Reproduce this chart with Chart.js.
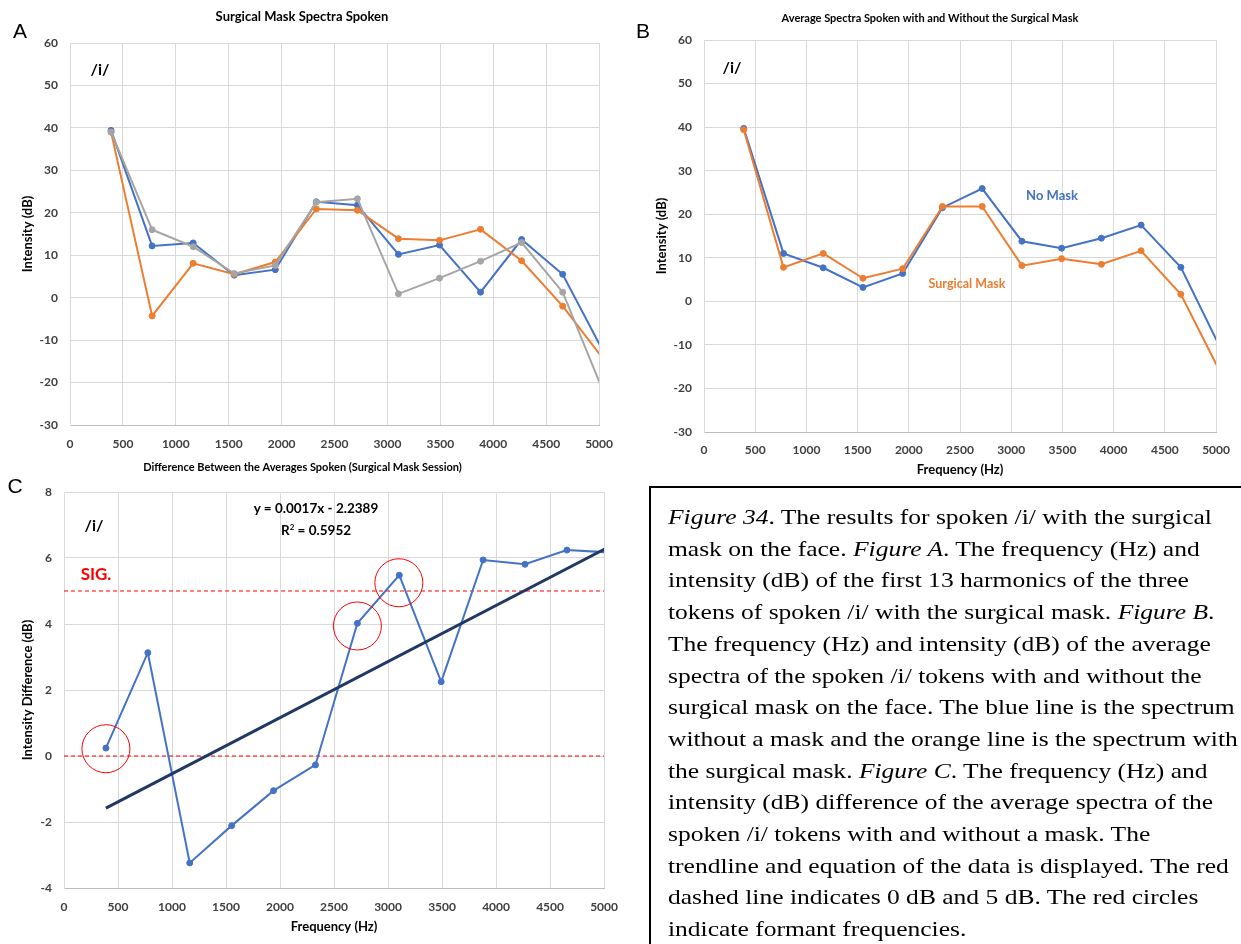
<!DOCTYPE html>
<html>
<head>
<meta charset="utf-8">
<script src="https://cdn.jsdelivr.net/npm/chart.js@4.4.1/dist/chart.umd.min.js"></script>
<style>
  html, body { margin: 0; padding: 0; background: #fff; }
  body { width: 1241px; height: 944px; overflow: hidden; position: relative; font-family: Lato, "Open Sans", sans-serif; }
  .cv { position: absolute; }
  .tag { position: absolute; white-space: nowrap; transform: translate(-50%, -50%); line-height: 1; }
  .panel { font-family: "Liberation Sans", Arial, sans-serif; font-size: 21px; color: #000; }
  .vowel { font-weight: bold; font-size: 16px; color: #000; }
  .caption {
    position: absolute; left: 649px; top: 486px; width: 700px; height: 600px;
    border: 2px solid #000; box-sizing: border-box;
    padding: 13px 0 0 17px;
    font-family: "Liberation Serif", "Times New Roman", serif; font-size: 22px; line-height: 31.7px; color: #000;
  }
  .caption .body { transform: scaleX(1.16); transform-origin: 0 0; }
  .caption .body div { white-space: nowrap; }
</style>
</head>
<body>
<canvas id="chartA" class="cv" width="625" height="460" style="left:0;top:0"></canvas>
<canvas id="chartB" class="cv" width="601" height="490" style="left:640px;top:0"></canvas>
<canvas id="chartC" class="cv" width="630" height="492" style="left:0;top:452px"></canvas>

<div class="tag panel" style="left:20px;top:30px">A</div>
<div class="tag panel" style="left:643px;top:30px">B</div>
<div class="tag panel" style="left:15px;top:485px">C</div>

<div class="tag vowel" style="left:100px;top:69px">/i/</div>
<div class="tag vowel" style="left:732px;top:67px">/i/</div>
<div class="tag vowel" style="left:94px;top:525px">/i/</div>

<div class="tag" style="left:1052px;top:195px;font-weight:bold;font-size:13px;color:#4472C4">No Mask</div>
<div class="tag" style="left:967px;top:284px;font-weight:bold;font-size:12.5px;color:#ED7D31">Surgical Mask</div>

<div class="tag" style="left:316px;top:509px;font-weight:bold;font-size:13.5px;color:#000">y = 0.0017x - 2.2389</div>
<div class="tag" style="left:316px;top:530px;font-weight:bold;font-size:13.5px;color:#000">R<sup style="font-size:8px;vertical-align:5px">2</sup> = 0.5952</div>
<div class="tag" style="left:96px;top:573px;font-weight:bold;font-size:17px;color:#FF0000">SIG.</div>

<div class="caption"><div class="body">
  <div><i>Figure 34</i>. The results for spoken /i/ with the surgical</div>
  <div>mask on the face. <i>Figure A</i>. The frequency (Hz) and</div>
  <div>intensity (dB) of the first 13 harmonics of the three</div>
  <div>tokens of spoken /i/ with the surgical mask. <i>Figure B</i>.</div>
  <div>The frequency (Hz) and intensity (dB) of the average</div>
  <div>spectra of the spoken /i/ tokens with and without the</div>
  <div>surgical mask on the face. The blue line is the spectrum</div>
  <div>without a mask and the orange line is the spectrum with</div>
  <div>the surgical mask. <i>Figure C</i>. The frequency (Hz) and</div>
  <div>intensity (dB) difference of the average spectra of the</div>
  <div>spoken /i/ tokens with and without a mask. The</div>
  <div>trendline and equation of the data is displayed. The red</div>
  <div>dashed line indicates 0 dB and 5 dB. The red circles</div>
  <div>indicate formant frequencies.</div>
</div></div>

<script>
// Harmonic frequencies (Hz) of the spoken /i/ tokens
const HARMONIC_HZ = [388, 776, 1164, 1552, 1940, 2328, 2716, 3104, 3492, 3880, 4268, 4656, 5044];

// Panel A: three surgical-mask tokens, intensity (dB)
const TOKEN_1_DB = [39.4, 12.2, 12.9, 5.3, 6.6, 22.6, 21.8, 10.2, 12.4, 1.3, 13.7, 5.5, -12.9];
const TOKEN_2_DB = [39.0, -4.3, 8.1, 5.5, 8.4, 20.9, 20.6, 13.9, 13.5, 16.1, 8.7, -2.0, -14.6];
const TOKEN_3_DB = [39.0, 16.0, 12.0, 5.7, 7.6, 22.5, 23.3, 0.9, 4.6, 8.6, 13.0, 1.3, -22.4];

// Panel B: average spectra, intensity (dB)
const NO_MASK_DB = [39.7, 11.0, 7.7, 3.2, 6.4, 21.5, 25.9, 13.8, 12.2, 14.5, 17.5, 7.8, -10.8];
const SURGICAL_MASK_DB = [39.4, 7.8, 11.0, 5.3, 7.5, 21.8, 21.8, 8.2, 9.8, 8.5, 11.6, 1.6, -16.4];

// Panel C: difference between the averages (dB)
const DIFFERENCE_DB = [0.24, 3.13, -3.24, -2.11, -1.05, -0.27, 4.02, 5.48, 2.25, 5.94, 5.81, 6.24, 6.17];

// Linear trendline y = slope * x + intercept
const TREND_SLOPE = 0.0017;
const TREND_INTERCEPT = -2.2389;

// Reference levels (dB) drawn as dashed red lines
const REFERENCE_DB = [0, 5];

// Formant markers (circle centres)
const FORMANT_HZ = [388, 2716, 3100];
const FORMANT_DB = [0.22, 3.94, 5.25];

// Axis ranges and tick steps
const FREQ_RANGE = [0, 5000, 500];
const SPECTRUM_RANGE = [-30, 60, 10];
const DIFF_RANGE = [-4, 8, 2];

const FONT = 'Lato, "Open Sans", sans-serif';
const TICK_COLOR = '#404040';
const GRID_COLOR = '#D9D9D9';
const BLUE = '#4472C4', ORANGE = '#ED7D31', GRAY = '#A5A5A5';

const pts = (xs, ys) => xs.map((x, i) => ({ x, y: ys[i] }));

function series(label, ys, color, order) {
  return {
    label, data: pts(HARMONIC_HZ, ys), order,
    borderColor: color, backgroundColor: color,
    borderWidth: 2, pointRadius: 3, pointHoverRadius: 3,
    pointBackgroundColor: color, pointBorderColor: color, pointBorderWidth: 1,
    tension: 0, clip: 0
  };
}

function xScale(o) {
  return {
    type: 'linear', min: FREQ_RANGE[0], max: FREQ_RANGE[1],
    ticks: { stepSize: FREQ_RANGE[2], padding: o.tickPad, color: TICK_COLOR, maxRotation: 0, autoSkip: false,
             format: { useGrouping: false },
             font: { family: FONT, size: 12, weight: 'bold' } },
    grid: { color: GRID_COLOR, drawTicks: false, lineWidth: 1 },
    border: { color: '#BFBFBF', width: 1 },
    title: o.title ? { display: true, text: o.title, color: '#000', padding: { top: 0, bottom: o.titlePad },
                       font: { family: FONT, size: 13, weight: 'bold' } } : { display: false },
    afterFit: s => { s.height = o.height; }
  };
}

function yScale(o) {
  return {
    type: 'linear', min: o.range[0], max: o.range[1],
    ticks: { stepSize: o.range[2], padding: 12, color: TICK_COLOR,
             font: { family: FONT, size: 12, weight: 'bold' } },
    grid: { color: GRID_COLOR, drawTicks: false, lineWidth: 1 },
    border: { color: GRID_COLOR, width: 1 },
    title: { display: true, text: o.title, color: '#000', padding: { top: o.titlePad, bottom: 0 },
             font: { family: FONT, size: 13, weight: 'bold' } },
    afterFit: s => { s.width = o.width; }
  };
}

function baseOptions(o) {
  return {
    responsive: false, animation: false, events: [],
    layout: { padding: { left: 0, right: o.right, top: 0, bottom: 0 } },
    plugins: {
      legend: { display: false }, tooltip: { enabled: false },
      title: { display: true, text: o.title, color: '#000',
               font: { family: FONT, size: o.titleSize, weight: 'bold', lineHeight: 1.2 },
               padding: { top: o.titleTop, bottom: o.titleBottom } }
    },
    scales: { x: xScale(o.x), y: yScale(o.y) }
  };
}

// Panel A
new Chart(document.getElementById('chartA'), {
  type: 'line',
  data: { datasets: [
    series('Token 3', TOKEN_3_DB, GRAY, 1),
    series('Token 2', TOKEN_2_DB, ORANGE, 2),
    series('Token 1', TOKEN_1_DB, BLUE, 3)
  ] },
  options: baseOptions({
    title: 'Surgical Mask Spectra Spoken', titleSize: 13, titleTop: 9.2, titleBottom: 18.2, right: 21,
    x: { tickPad: 12, height: 35 },
    y: { range: SPECTRUM_RANGE, title: 'Intensity (dB)', titlePad: 20.2, width: 70 }
  })
});

// Panel B
new Chart(document.getElementById('chartB'), {
  type: 'line',
  data: { datasets: [
    series('Surgical Mask', SURGICAL_MASK_DB, ORANGE, 1),
    series('No Mask', NO_MASK_DB, BLUE, 2)
  ] },
  options: baseOptions({
    title: 'Average Spectra Spoken with and Without the Surgical Mask', titleSize: 11, titleTop: 11.4, titleBottom: 15.4, right: 21,
    x: { tickPad: 11, height: 58, title: 'Frequency (Hz)', titlePad: 12.2 },
    y: { range: SPECTRUM_RANGE, title: 'Intensity (dB)', titlePad: 14.2, width: 64 }
  })
});

// Panel C
const trendY = x => TREND_SLOPE * x + TREND_INTERCEPT;
const firstHz = HARMONIC_HZ[0], lastHz = HARMONIC_HZ[HARMONIC_HZ.length - 1];
const cDatasets = [
  {
    label: 'Formants', data: pts(FORMANT_HZ, FORMANT_DB), order: 0, showLine: false,
    pointStyle: 'circle', pointRadius: 24, pointHoverRadius: 24,
    pointBackgroundColor: 'rgba(0,0,0,0)', pointBorderColor: '#FF0000', pointBorderWidth: 1, clip: false
  },
  {
    label: 'Trendline', data: [{ x: firstHz, y: trendY(firstHz) }, { x: lastHz, y: trendY(lastHz) }], order: 1,
    borderColor: '#203864', borderWidth: 3, pointRadius: 0, tension: 0, clip: 0
  },
  series('Difference', DIFFERENCE_DB, BLUE, 2),
  ...REFERENCE_DB.map((lvl, i) => ({
    label: 'Reference ' + lvl, data: [{ x: FREQ_RANGE[0], y: lvl }, { x: FREQ_RANGE[1], y: lvl }], order: 3 + i,
    borderColor: '#FF0000', borderWidth: 1.2, borderDash: [4, 3], pointRadius: 0, tension: 0
  }))
];
new Chart(document.getElementById('chartC'), {
  type: 'line',
  data: { datasets: cDatasets },
  options: baseOptions({
    title: 'Difference Between the Averages Spoken (Surgical Mask Session)', titleSize: 11, titleTop: 8.4, titleBottom: 18.4, right: 25,
    x: { tickPad: 12, height: 56, title: 'Frequency (Hz)', titlePad: 9.2 },
    y: { range: DIFF_RANGE, title: 'Intensity Difference (dB)', titlePad: 20.2, width: 64 }
  })
});
</script>
</body>
</html>
